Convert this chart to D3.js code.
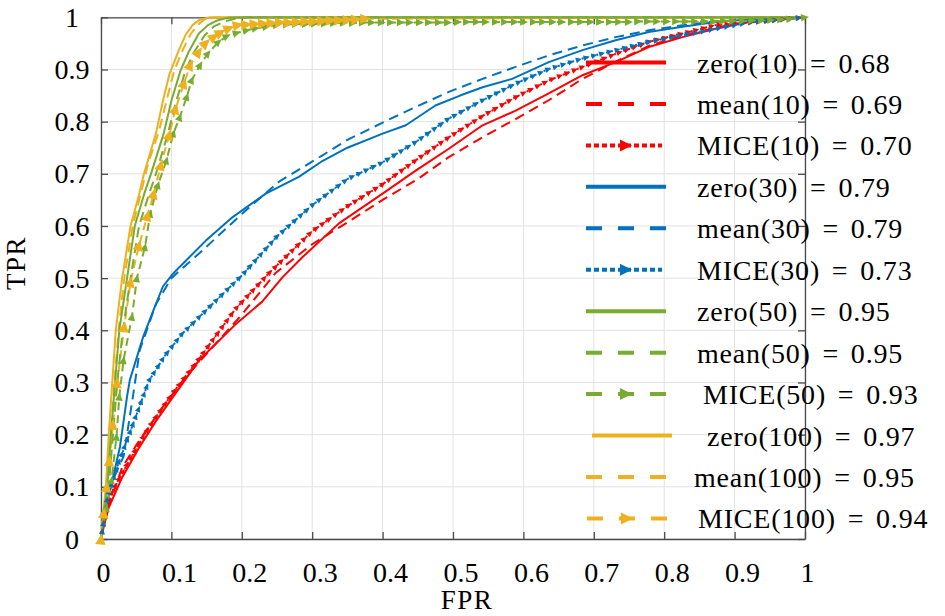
<!DOCTYPE html>
<html><head><meta charset="utf-8">
<script src="https://cdn.jsdelivr.net/npm/d3@7"></script>
<style>
body{margin:0;background:#fff}
svg{display:block}
text{font-family:"Liberation Serif","DejaVu Serif",serif;fill:#000}
</style>
</head><body>
<svg id="c" width="945" height="616"></svg>
<script>
// ---------- data ----------
const xTicks = [0,0.1,0.2,0.3,0.4,0.5,0.6,0.7,0.8,0.9,1];
const xTickLabels = ["0","0.1","0.2","0.3","0.4","0.5","0.6","0.7","0.8","0.9","1"];
const yTicks = [0,0.1,0.2,0.3,0.4,0.5,0.6,0.7,0.8,0.9,1];
const yTickLabels = ["0","0.1","0.2","0.3","0.4","0.5","0.6","0.7","0.8","0.9","1"];
const xLabel = "FPR";
const yLabel = "TPR";

const seriesNames = ["zero(10)","mean(10)","MICE(10)","zero(30)","mean(30)","MICE(30)",
                     "zero(50)","mean(50)","MICE(50)","zero(100)","mean(100)","MICE(100)"];
const seriesAUC = ["0.68","0.69","0.70","0.79","0.79","0.73","0.95","0.95","0.93","0.97","0.95","0.94"];

const zero10 = [[0,0],[0.005,0.03],[0.011,0.06],[0.03,0.118],[0.054,0.175],[0.078,0.226],[0.1,0.268],[0.139,0.342],[0.19,0.41],[0.229,0.455],[0.258,0.502],[0.286,0.54],[0.338,0.605],[0.4,0.662],[0.447,0.706],[0.494,0.748],[0.542,0.793],[0.589,0.821],[0.636,0.854],[0.684,0.889],[0.731,0.914],[0.778,0.943],[0.826,0.962],[0.873,0.978],[0.92,0.991],[1,1]];
const mean10 = [[0,0],[0.01,0.06],[0.03,0.137],[0.054,0.188],[0.087,0.252],[0.12,0.31],[0.16,0.37],[0.2,0.43],[0.248,0.51],[0.3,0.565],[0.35,0.607],[0.4,0.65],[0.45,0.69],[0.494,0.732],[0.542,0.77],[0.589,0.805],[0.636,0.841],[0.684,0.882],[0.731,0.915],[0.778,0.945],[0.826,0.965],[0.873,0.98],[0.92,0.992],[1,1]];
const mice10 = [[0,0],[0.007,0.054],[0.016,0.092],[0.04,0.15],[0.068,0.214],[0.101,0.278],[0.139,0.345],[0.191,0.441],[0.239,0.51],[0.3,0.59],[0.35,0.638],[0.4,0.68],[0.447,0.726],[0.494,0.77],[0.542,0.811],[0.589,0.847],[0.636,0.879],[0.684,0.905],[0.731,0.93],[0.778,0.953],[0.826,0.969],[0.873,0.985],[0.92,0.99],[1,1]];
const zero30 = [[0,0],[0.005,0.05],[0.013,0.094],[0.027,0.177],[0.037,0.273],[0.041,0.305],[0.06,0.388],[0.075,0.44],[0.088,0.484],[0.1,0.505],[0.112,0.522],[0.149,0.572],[0.187,0.617],[0.234,0.662],[0.281,0.694],[0.315,0.725],[0.35,0.75],[0.4,0.777],[0.433,0.793],[0.475,0.831],[0.51,0.85],[0.542,0.866],[0.584,0.882],[0.636,0.914],[0.684,0.937],[0.731,0.956],[0.778,0.972],[0.826,0.982],[0.873,0.991],[0.92,0.996],[1,1]];
const mean30 = [[0,0],[0.005,0.06],[0.016,0.111],[0.032,0.158],[0.045,0.27],[0.055,0.362],[0.078,0.45],[0.1,0.5],[0.144,0.553],[0.2,0.623],[0.253,0.685],[0.314,0.735],[0.35,0.765],[0.409,0.804],[0.447,0.828],[0.494,0.857],[0.542,0.882],[0.589,0.905],[0.636,0.927],[0.684,0.946],[0.731,0.962],[0.778,0.975],[0.826,0.985],[0.873,0.992],[0.93,0.997],[1,1]];
const mice30 = [[0,0],[0.009,0.079],[0.026,0.15],[0.04,0.2],[0.068,0.303],[0.09,0.35],[0.115,0.393],[0.158,0.45],[0.2,0.505],[0.25,0.58],[0.3,0.64],[0.35,0.69],[0.4,0.722],[0.447,0.761],[0.494,0.806],[0.542,0.841],[0.589,0.873],[0.636,0.901],[0.684,0.921],[0.731,0.937],[0.778,0.953],[0.826,0.966],[0.873,0.978],[0.92,0.99],[1,1]];
const zero50 = [[0,0],[0.004,0.05],[0.009,0.1],[0.014,0.2],[0.02,0.3],[0.026,0.4],[0.037,0.5],[0.048,0.6],[0.061,0.66],[0.071,0.7],[0.089,0.777],[0.1,0.84],[0.113,0.898],[0.125,0.935],[0.139,0.969],[0.152,0.985],[0.165,0.994],[0.18,0.999],[0.2,1],[1,1]];
const mean50 = [[0,0],[0.005,0.05],[0.011,0.1],[0.017,0.2],[0.023,0.3],[0.031,0.4],[0.042,0.5],[0.054,0.6],[0.068,0.66],[0.078,0.7],[0.095,0.777],[0.107,0.84],[0.12,0.898],[0.133,0.935],[0.147,0.965],[0.16,0.982],[0.175,0.992],[0.19,0.997],[0.21,1],[1,1]];
const mice50 = [[0,0],[0.008,0.06],[0.015,0.113],[0.022,0.196],[0.026,0.273],[0.032,0.343],[0.044,0.426],[0.051,0.5],[0.0625,0.56],[0.07,0.624],[0.081,0.679],[0.093,0.726],[0.103,0.778],[0.112,0.809],[0.122,0.848],[0.129,0.88],[0.141,0.909],[0.152,0.931],[0.167,0.953],[0.179,0.964],[0.193,0.97],[0.207,0.975],[0.22,0.979],[0.235,0.982],
  [0.25,0.985],[0.264,0.986],[0.277,0.987],[0.291,0.987],[0.304,0.988],[0.318,0.988],[0.331,0.989],[0.345,0.989],[0.358,0.989],[0.372,0.99],[0.385,0.99],[0.399,0.99],[0.412,0.99],[0.426,0.99],[0.439,0.99],[0.453,0.99],[0.466,0.99],[0.48,0.99],[0.493,0.99],[0.507,0.991],[0.52,0.991],[0.534,0.991],[0.547,0.991],[0.561,0.991],[0.574,0.991],[0.588,0.991],[0.601,0.991],[0.615,0.991],[0.628,0.991],[0.642,0.991],[0.655,0.991],[0.669,0.991],[0.682,0.991],[0.696,0.991],[0.709,0.991],[0.723,0.991],[0.736,0.991],[0.75,0.991],[0.763,0.992],[0.777,0.992],[0.79,0.992],[0.804,0.992],[0.817,0.992],[0.831,0.992],[0.844,0.992],[0.858,0.992],[0.871,0.992],[0.885,0.993],[0.898,0.993],[0.912,0.993],[0.925,0.994],[0.939,0.994],[0.952,0.995],[0.966,0.996],[0.979,0.997],[1,1]];
const zero100 = [[0,0],[0.003,0.05],[0.007,0.1],[0.011,0.2],[0.016,0.3],[0.021,0.4],[0.03,0.5],[0.042,0.6],[0.054,0.66],[0.061,0.7],[0.078,0.777],[0.088,0.84],[0.097,0.89],[0.11,0.935],[0.12,0.966],[0.13,0.985],[0.14,0.995],[0.155,1],[1,1]];
const mean100 = [[0,0],[0.004,0.05],[0.009,0.1],[0.014,0.2],[0.019,0.3],[0.025,0.4],[0.033,0.5],[0.045,0.6],[0.058,0.67],[0.067,0.72],[0.082,0.78],[0.093,0.84],[0.104,0.898],[0.117,0.94],[0.127,0.967],[0.137,0.985],[0.147,0.996],[0.165,1],[1,1]];
const mice100 = [[0,0],[0.004,0.05],[0.008,0.1],[0.012,0.15],[0.017,0.22],[0.023,0.3],[0.033,0.407],[0.042,0.493],[0.054,0.563],[0.066,0.62],[0.075,0.662],[0.085,0.717],[0.097,0.775],[0.106,0.825],[0.118,0.874],[0.127,0.909],[0.139,0.934],[0.149,0.951],[0.161,0.963],[0.17,0.971],[0.182,0.979],[0.195,0.985],
  [0.207,0.986],[0.219,0.987],[0.231,0.988],[0.243,0.989],[0.255,0.99],[0.267,0.99],[0.279,0.991],[0.291,0.992],[0.303,0.992],[0.315,0.993],[0.327,0.994],[0.339,0.994],[0.351,0.995],[0.363,0.996],[0.376,0.997],[1,1]];

const seriesData = [zero10,mean10,mice10,zero30,mean30,mice30,zero50,mean50,mice50,zero100,mean100,mice100];

// ---------- styles ----------
const RED="#ff0000", BLUE="#0072bd", GREEN="#77ac30", YEL="#edb120";
const styles = [
  {c:RED, dash:null, ldash:null},
  {c:RED, dash:"10,6", ldash:"16,16"},
  {c:RED, dash:"2,3", ldash:"5,3", mk:"arc", gap:8, ms:6},
  {c:BLUE, dash:null, ldash:null},
  {c:BLUE, dash:"10,6", ldash:"16,16"},
  {c:BLUE, dash:"2,3", ldash:"5,3", mk:"arc", gap:8, ms:6},
  {c:GREEN, dash:null, ldash:null},
  {c:GREEN, dash:"10,6", ldash:"16,16"},
  {c:GREEN, dash:"8,5", ldash:"16,16", mk:"pts", ms:8, skipLast:false},
  {c:YEL, dash:null, ldash:null},
  {c:YEL, dash:"10,6", ldash:"16,16"},
  {c:YEL, dash:"8,5", ldash:"16,16", mk:"pts", ms:11, skipLast:true}
];

const svg = d3.select("#c");
const x = d3.scaleLinear().domain([0,1]).range([101,805]);
const y = d3.scaleLinear().domain([0,1]).range([539,17.3]);

// grid
const grid = svg.append("g");
grid.selectAll("line.gx").data(xTicks).join("line")
  .attr("x1",d=>x(d)).attr("x2",d=>x(d)).attr("y1",y(0)).attr("y2",y(1))
  .attr("stroke","#e2e2e2").attr("stroke-width",1);
grid.selectAll("line.gy").data(yTicks).join("line")
  .attr("y1",d=>y(d)).attr("y2",d=>y(d)).attr("x1",x(0)).attr("x2",x(1))
  .attr("stroke","#e2e2e2").attr("stroke-width",1);

// axes (inward ticks on all sides)
const AX="#4a4a4a";
function styleAxis(g){
  g.select(".domain").attr("stroke",AX).attr("stroke-width",1.3);
  g.selectAll(".tick line").attr("stroke",AX).attr("stroke-width",1.3);
  g.selectAll(".tick text").remove();
}
svg.append("g").attr("transform",`translate(0,${y(0)})`)
  .call(d3.axisBottom(x).tickValues(xTicks).tickSizeInner(-7).tickSizeOuter(0)).call(styleAxis);
svg.append("g").attr("transform",`translate(0,${y(1)})`)
  .call(d3.axisTop(x).tickValues(xTicks).tickSizeInner(-7).tickSizeOuter(0)).call(styleAxis);
svg.append("g").attr("transform",`translate(${x(0)},0)`)
  .call(d3.axisLeft(y).tickValues(yTicks).tickSizeInner(-7).tickSizeOuter(0)).call(styleAxis);
svg.append("g").attr("transform",`translate(${x(1)},0)`)
  .call(d3.axisRight(y).tickValues(yTicks).tickSizeInner(-7).tickSizeOuter(0)).call(styleAxis);

// tick labels
svg.append("g").selectAll("text").data(xTicks).join("text")
  .attr("x",(d,i)=>x(d)+(xTickLabels[i].length>1?8:2.5)).attr("y",581.5)
  .attr("text-anchor","middle").attr("font-size",28).text((d,i)=>xTickLabels[i]);
svg.append("g").selectAll("text").data(yTicks).join("text")
  .attr("x",72).attr("y",d=>y(d)).attr("dy","0.34em")
  .attr("text-anchor","middle").attr("font-size",28).text((d,i)=>yTickLabels[i]);

svg.append("text").attr("x",467).attr("y",609).attr("text-anchor","middle")
  .attr("font-size",27).attr("letter-spacing",1.5).text(xLabel);
svg.append("text").attr("transform","translate(25,263) rotate(-90)").attr("text-anchor","middle")
  .attr("font-size",27).attr("letter-spacing",1.5).text(yLabel);

// curves
const line = d3.line().x(d=>x(d[0])).y(d=>y(d[1]));
const tri = (L,Wd)=>`M${L/2},0L${-L/2},${Wd/2}L${-L/2},${-Wd/2}Z`;
const lineOrder = [0,1,2,3,4,5,9,10,11,6,7,8];
const markOrder = [2,5,8,11];
const paths = {};
const curves = svg.append("g");
lineOrder.forEach(i=>{
  const s=styles[i];
  paths[i] = curves.append("path").datum(seriesData[i]).attr("d",line)
    .attr("fill","none").attr("stroke",s.c).attr("stroke-width",2)
    .attr("stroke-linejoin","round")
    .attr("stroke-dasharray",s.dash);
});
markOrder.forEach(i=>{
  const s=styles[i], data=seriesData[i];
  let mk=[];
  if(s.mk==="arc"){
    const node=paths[i].node(), L=node.getTotalLength();
    for(let l=0;l<=L;l+=s.gap){
      const p=node.getPointAtLength(l);
      const a=node.getPointAtLength(Math.max(0,l-1.5)), b=node.getPointAtLength(Math.min(L,l+1.5));
      mk.push({x:p.x,y:p.y,a:Math.atan2(b.y-a.y,b.x-a.x)*180/Math.PI});
    }
  } else {
    const n = s.skipLast ? data.length-1 : data.length;
    for(let k=0;k<n;k++){
      const pv=data[Math.max(0,k-1)], nx=data[Math.min(data.length-1,k+1)];
      const ang=Math.atan2(y(nx[1])-y(pv[1]), x(nx[0])-x(pv[0]))*180/Math.PI;
      mk.push({x:x(data[k][0]),y:y(data[k][1]),a:ang});
    }
  }
  curves.append("g").selectAll("path").data(mk).join("path")
    .attr("d",tri(s.ms,s.ms*0.95)).attr("fill",s.c)
    .attr("transform",d=>`translate(${d.x},${d.y}) rotate(${d.a})`);
});

// legend
const legLineNudge=[0,0,0,0,0,0,0,0,0,6,0,1];
const legTextNudge=[0,0,0,0,0,0,0,0,6,10,-3,1];
const leg = svg.append("g");
seriesNames.forEach((nm,i)=>{
  const s=styles[i];
  const ry = 62.5 + i*41.45;
  const x0 = 586+legLineNudge[i], x1 = (s.ldash==="5,3"? 662:666)+legLineNudge[i];
  leg.append("line").attr("x1",x0).attr("x2",x1).attr("y1",ry).attr("y2",ry)
    .attr("stroke",s.c).attr("stroke-width",4).attr("stroke-dasharray",s.ldash);
  if(s.mk){
    leg.append("path").attr("d",tri(12,12)).attr("fill",s.c)
      .attr("transform",`translate(${(586+666)/2+legLineNudge[i]},${ry})`);
  }
  leg.append("text").attr("x",697+legTextNudge[i]).attr("y",ry+10)
    .attr("font-size",28).attr("letter-spacing",0.8).attr("word-spacing",4)
    .text(`${nm} = ${seriesAUC[i]}`);
});
</script>
</body></html>
